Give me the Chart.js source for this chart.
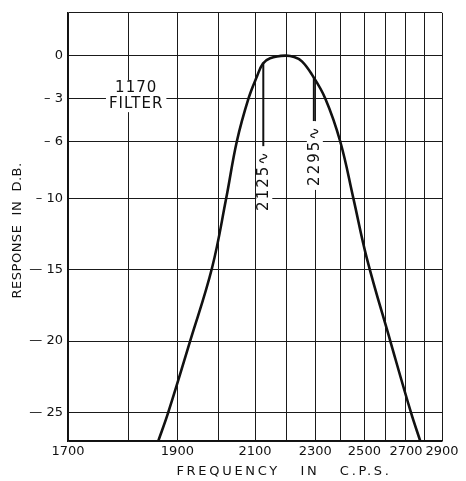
<!DOCTYPE html>
<html>
<head>
<meta charset="utf-8">
<title>1170 Filter response</title>
<script src="https://cdn.jsdelivr.net/npm/chart.js@4/dist/chart.umd.min.js"></script>
<style>
  html, body { margin: 0; padding: 0; background: #fff; }
  #wrap { width: 466px; height: 481px; }
</style>
</head>
<body>
<div id="wrap"><canvas id="filterChart" width="466" height="481"></canvas></div>
<script>
// Response curve (frequency in c.p.s., response in db)
const frequencies = [1859, 1880, 1929, 1982, 2019, 2048, 2081, 2106, 2124, 2146, 2195,
                     2225, 2252, 2287, 2338, 2397, 2452, 2511, 2621, 2726, 2776];
const responseDb  = [-27, -25, -20, -14.9, -10, -6, -3, -1.45, -0.55, -0.18, 0,
                     -0.1, -0.4, -1.3, -3, -6, -10, -14.2, -20, -25, -27];

// Bandwidth markers
const markerFreqs  = [2125, 2295];
const markerTopDb  = [-0.5, -1.5];
const markerEndDb  = [-6.6, -4.6];
const markerLabels = ['2125\u223F', '2295\u223F'];
const markerTextDb = [-8.75, -7.0];

// Axes
const freqTicks  = [1700, 1800, 1900, 2000, 2100, 2200, 2300, 2400, 2500, 2600, 2700, 2800, 2900];
const dbTicks    = [-27, -25, -20, -15, -10, -6, -3, 0, 3];
const dbTickText = ['', '\u2014 25', '\u2014 20', '\u2014 15', '\u2013 10', '\u2013 6', '\u2013 3', '0', ''];

const noteLines = ['1170', 'FILTER'];
const noteFreq  = 1815;
const noteDb    = [-2.3, -3.4];

const FREQ_OFFSET = 1300; // the chart paper is logarithmic in (f - 1300)
const FONT = '"DejaVu Sans", "Liberation Sans", sans-serif';
const INK = '#111';

// draw a scale title with letter spacing, nudged off the scale centre like the original
function spacedTitle(ctx, spacing, dx, dy, draw) {
    ctx.save();
    ctx.translate(dx, dy);
    ctx.letterSpacing = spacing;
    draw();
    ctx.restore();
}

class ShiftedLogScale extends Chart.Scale {
    determineDataLimits() {
        this.min = this.options.min;
        this.max = this.options.max;
    }
    buildTicks() {
        return freqTicks.map(v => ({ value: v }));
    }
    getLabelForValue(value) {
        return String(Math.round(value));
    }
    _span() {
        const lo = Math.log(this.min - FREQ_OFFSET);
        const hi = Math.log(this.max - FREQ_OFFSET);
        return { lo, hi };
    }
    getPixelForValue(value) {
        const { lo, hi } = this._span();
        return this.getPixelForDecimal((Math.log(value - FREQ_OFFSET) - lo) / (hi - lo));
    }
    getPixelForTick(index) {
        return this.getPixelForValue(this.ticks[index].value);
    }
    getValueForPixel(pixel) {
        const { lo, hi } = this._span();
        return FREQ_OFFSET + Math.exp(lo + this.getDecimalForPixel(pixel) * (hi - lo));
    }
    drawTitle(chartArea) {
        spacedTitle(this.ctx, '2.7px', 29, 0, () => super.drawTitle(chartArea));
    }
}
ShiftedLogScale.id = 'shiftedLog';
ShiftedLogScale.defaults = {};

class SpacedLinearScale extends Chart.LinearScale {
    drawTitle(chartArea) {
        spacedTitle(this.ctx, '0.5px', 0, 3.5, () => super.drawTitle(chartArea));
    }
}
SpacedLinearScale.id = 'spacedLinear';
SpacedLinearScale.defaults = Chart.LinearScale.defaults;

Chart.register(ShiftedLogScale, SpacedLinearScale);

// Filter name and the rotated marker captions, with a white ground like the original
const annotationPlugin = {
    id: 'filterNotes',
    afterDraw(chart) {
        const { ctx, scales: { x, y } } = chart;
        ctx.save();
        ctx.textAlign = 'center';
        ctx.textBaseline = 'middle';

        ctx.font = '15px ' + FONT;
        ctx.letterSpacing = '1px';
        noteLines.forEach((line, i) => {
            const px = x.getPixelForValue(noteFreq);
            const py = y.getPixelForValue(noteDb[i]);
            const w = ctx.measureText(line).width;
            ctx.fillStyle = '#fff';
            ctx.fillRect(px - w / 2 - 3, py - 8, w + 6, 16);
            ctx.fillStyle = INK;
            ctx.fillText(line, px, py);
        });

        ctx.letterSpacing = '2px';
        markerLabels.forEach((label, i) => {
            const px = x.getPixelForValue(markerFreqs[i]) + 1;
            const py = y.getPixelForValue(markerTextDb[i]);
            ctx.save();
            ctx.translate(px, py);
            ctx.rotate(-Math.PI / 2);
            const w = ctx.measureText(label).width;
            ctx.fillStyle = '#fff';
            ctx.fillRect(-w / 2 - 4, -8, w + 8, 16);
            ctx.fillStyle = INK;
            ctx.fillText(label, 0, 0);
            ctx.restore();
        });
        ctx.restore();
    }
};

const curve = frequencies.map((f, i) => ({ x: f, y: responseDb[i] }));
const markerSets = markerFreqs.map((f, i) => ({
    data: [{ x: f, y: markerTopDb[i] }, { x: f, y: markerEndDb[i] }],
    borderColor: INK,
    borderWidth: 2,
    pointRadius: 0,
    tension: 0
}));

new Chart(document.getElementById('filterChart'), {
    type: 'line',
    data: {
        datasets: [{
            label: '1170 Filter',
            data: curve,
            borderColor: INK,
            borderWidth: 2.6,
            pointRadius: 0,
            tension: 0.4,
            fill: false
        }, ...markerSets]
    },
    options: {
        responsive: false,
        animation: false,
        layout: {
            padding: { left: 2, right: 24, top: 8, bottom: 0 }
        },
        plugins: {
            legend: { display: false },
            tooltip: { enabled: false }
        },
        scales: {
            x: {
                type: 'shiftedLog',
                axis: 'x',
                position: 'bottom',
                min: 1700,
                max: 2900,
                afterFit: scale => { scale.height = 40; },
                grid: { color: '#1a1a1a', lineWidth: 1, drawTicks: false },
                border: { color: INK, width: 1.5 },
                ticks: {
                    autoSkip: false,
                    maxRotation: 0,
                    minRotation: 0,
                    padding: 3,
                    color: INK,
                    font: { family: FONT, size: 13 },
                    callback: value => (value % 200 === 100 ? String(value) : '')
                },
                title: {
                    display: true,
                    text: 'FREQUENCY   IN   C.P.S.',
                    color: INK,
                    font: { family: FONT, size: 13 },
                    padding: { top: 0, bottom: 2 }
                }
            },
            y: {
                type: 'spacedLinear',
                min: -27,
                max: 3,
                afterFit: scale => { scale.width = 66; },
                afterBuildTicks: scale => {
                    scale.ticks = dbTicks.map(v => ({ value: v }));
                },
                grid: { color: '#1a1a1a', lineWidth: 1, drawTicks: false },
                border: { color: INK, width: 1.5 },
                ticks: {
                    padding: 5,
                    color: INK,
                    font: { family: FONT, size: 13 },
                    callback: value => dbTickText[dbTicks.indexOf(value)] ?? ''
                },
                title: {
                    display: true,
                    text: 'RESPONSE  IN  D.B.',
                    color: INK,
                    font: { family: FONT, size: 13 },
                    padding: { top: 8, bottom: 0 }
                }
            }
        }
    },
    plugins: [annotationPlugin]
});
</script>
</body>
</html>
